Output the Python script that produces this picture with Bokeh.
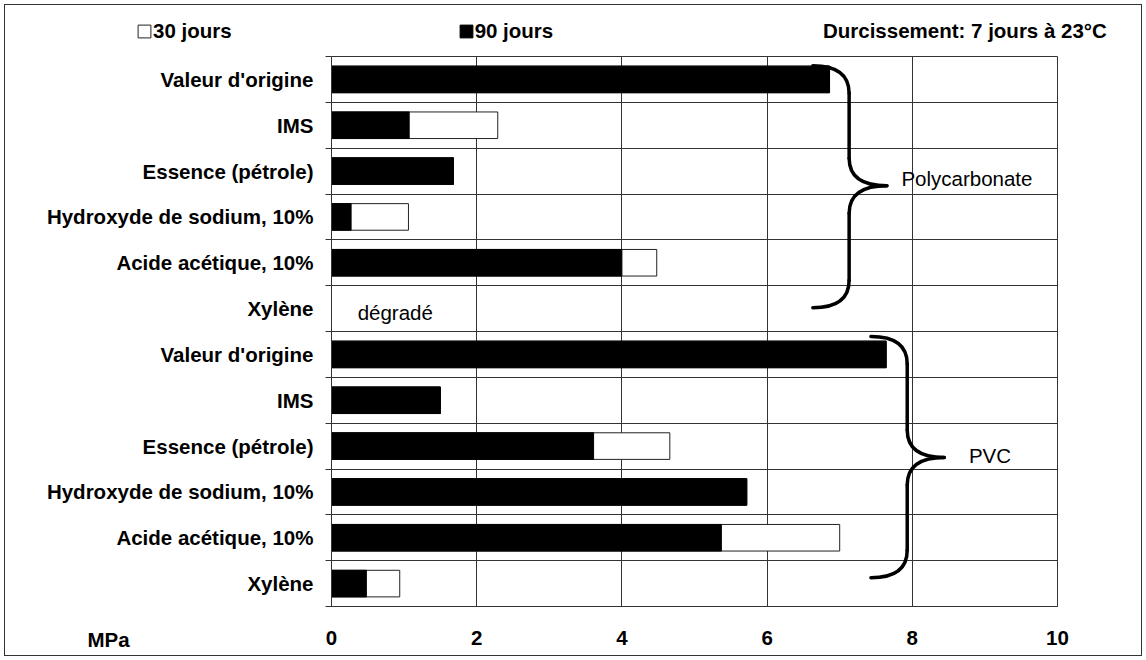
from bokeh.plotting import figure
from bokeh.models import (ColumnDataSource, Range1d, FixedTicker, Label,
                          Legend, LegendItem)
from bokeh.embed import file_html
from bokeh.resources import INLINE

# ---------------- data ----------------
categories = ["Valeur d'origine", "IMS", "Essence (pétrole)",
              "Hydroxyde de sodium, 10%", "Acide acétique, 10%", "Xylène",
              "Valeur d'origine", "IMS", "Essence (pétrole)",
              "Hydroxyde de sodium, 10%", "Acide acétique, 10%", "Xylène"]
groups = ["Polycarbonate"] * 6 + ["PVC"] * 6
jours30 = [6.86, 2.29, 1.68, 1.06, 4.48, None,
           7.64, 1.50, 4.66, 5.72, 7.00, 0.94]
jours90 = [6.86, 1.07, 1.68, 0.27, 4.00, None,
           7.64, 1.50, 3.61, 5.72, 5.37, 0.48]
x_ticks = [0, 2, 4, 6, 8, 10]
legend_30 = "30 jours"
legend_90 = "90 jours"
cure_text = "Durcissement: 7 jours à 23°C"
degraded_text = "dégradé"
x_unit = "MPa"

FONT = "Liberation Sans"
FS = "20.5px"
GRID = "#333333"
W, H = 1146, 660
LEFT, RIGHT, TOP, BOTTOM = 331, 89, 56, 54

n = len(categories)
ypos = [i + 0.5 for i in range(n)]
nan = float("nan")
src = ColumnDataSource(dict(
    y=ypos,
    v30=[nan if v is None else v for v in jours30],
    v90=[nan if v is None else v for v in jours90],
))

x0, x1 = 0, 10
p = figure(width=W, height=H,
           x_range=Range1d(x0, x1), y_range=Range1d(n, 0),
           output_backend="svg", toolbar_location=None,
           min_border_left=LEFT, min_border_right=RIGHT,
           min_border_top=TOP, min_border_bottom=BOTTOM)
p.background_fill_color = "white"
p.border_fill_alpha = 0
p.outline_line_color = GRID
p.outline_line_width = 1
p.styles = {"outline": "1px solid #333333", "outline-offset": "-5px",
            "background": "white"}

# grids
p.xgrid.ticker = FixedTicker(ticks=x_ticks)
p.xgrid.grid_line_color = GRID
p.xgrid.grid_line_width = 1
p.ygrid.ticker = FixedTicker(ticks=list(range(n + 1)))
p.ygrid.grid_line_color = GRID
p.ygrid.grid_line_width = 1

# x axis
xa = p.xaxis[0]
xa.ticker = FixedTicker(ticks=x_ticks)
xa.major_tick_out = 0
xa.major_tick_in = 0
xa.minor_tick_line_color = None
xa.axis_line_color = GRID
xa.major_label_text_font = FONT
xa.major_label_text_font_style = "bold"
xa.major_label_text_font_size = FS
xa.major_label_text_color = "black"
xa.major_label_standoff = 24

# y axis
ya = p.yaxis[0]
ya.ticker = FixedTicker(ticks=ypos, minor_ticks=list(range(n + 1)))
ya.major_label_overrides = {y: c for y, c in zip(ypos, categories)}
ya.major_tick_line_color = None
ya.major_tick_out = 0
ya.major_tick_in = 0
ya.minor_tick_out = 6
ya.minor_tick_in = 0
ya.minor_tick_line_color = GRID
ya.axis_line_color = GRID
ya.major_label_text_font = FONT
ya.major_label_text_font_style = "bold"
ya.major_label_text_font_size = FS
ya.major_label_text_color = "black"
ya.major_label_standoff = 12

# bars
BAR_H = 0.58
WHITE_BAR = dict(fill_color="white", line_color="#222222", line_width=1)
BLACK_BAR = dict(fill_color="black", line_color="black", line_width=1)
p.hbar(y="y", left=0, right="v30", height=BAR_H, source=src, **WHITE_BAR)
p.hbar(y="y", left=0, right="v90", height=BAR_H, source=src, **BLACK_BAR)

# braces (decoration)
braces = [
    dict(name="Polycarbonate", x_end=6.63, x_vert=7.13, x_tip=7.65,
         y_top=0.20, y_tip=2.82, y_bot=5.48, r=0.6, tx=7.85, ty=2.66),
    dict(name="PVC", x_end=7.43, x_vert=7.93, x_tip=8.44,
         y_top=6.11, y_tip=8.75, y_bot=11.37, r=0.6, tx=8.78, ty=8.71),
]
for b in braces:
    xe, xv, xt = b["x_end"], b["x_vert"], b["x_tip"]
    yt, ym, yb, r = b["y_top"], b["y_tip"], b["y_bot"], b["r"]
    p.quadratic(x0=[xe, xv, xt, xv], y0=[yt, ym - r, ym, yb - r],
                x1=[xv, xt, xv, xe], y1=[yt + r, ym, ym + r, yb],
                cx=[xv, xv, xv, xv], cy=[yt, ym, ym, yb],
                line_color="black", line_width=3.5, line_cap="round")
    p.segment(x0=[xv, xv], y0=[yt + r, ym + r], x1=[xv, xv], y1=[ym - r, yb - r],
              line_color="black", line_width=3.5, line_cap="round")
    p.add_layout(Label(x=b["tx"], y=b["ty"], text=b["name"], text_font=FONT,
                       text_font_size=FS, text_baseline="middle",
                       text_align="left", text_color="black"))

# "dégradé" for the missing Polycarbonate / Xylène value
deg_idx = [i for i, v in enumerate(jours90) if v is None][0]
p.add_layout(Label(x=0.36, y=ypos[deg_idx] + 0.08, text=degraded_text,
                   text_font=FONT, text_font_size=FS, text_baseline="middle",
                   text_align="left", text_color="black"))

# ---- transparent overlay for the texts that lie outside the plot frame ----
# same data scale as the main plot, but its frame covers the whole canvas
fw = W - LEFT - RIGHT
fh = H - TOP - BOTTOM
ux = (x1 - x0) / fw
uy = n / fh
ov = figure(width=W, height=H,
            x_range=Range1d(x0 - LEFT * ux, x1 + RIGHT * ux),
            y_range=Range1d(n + BOTTOM * uy, -TOP * uy),
            output_backend="svg", toolbar_location=None,
            min_border=0, x_axis_location=None, y_axis_location=None)
ov.grid.visible = False
ov.background_fill_alpha = 0
ov.border_fill_alpha = 0
ov.outline_line_color = None
ov.styles = {"position": "absolute", "top": "0px", "left": "0px",
             "pointer-events": "none"}

# swatch renderers for the legend (one undrawn NaN row each)
e30 = ov.hbar(y=[nan], left=[0], right=[nan], height=1, **WHITE_BAR)
e90 = ov.hbar(y=[nan], left=[0], right=[nan], height=1, **BLACK_BAR)
legend = Legend(items=[LegendItem(label=legend_30, renderers=[e30]),
                       LegendItem(label=legend_90, renderers=[e90])],
                orientation="horizontal", location=(136, H - 43),
                spacing=226, padding=0, margin=0, border_line_color=None,
                background_fill_alpha=0, glyph_width=16, glyph_height=16,
                label_standoff=1, label_text_font=FONT,
                label_text_font_style="bold", label_text_font_size=FS,
                label_text_color="black", label_text_baseline="middle")
ov.add_layout(legend)

hdr = dict(text_font=FONT, text_font_size=FS, text_font_style="bold",
           text_baseline="middle", text_color="black")
ov.add_layout(Label(x=10.68, y=-0.57, text=cure_text, text_align="right", **hdr))
ov.add_layout(Label(x=-3.07, y=12.72, text=x_unit, text_align="center", **hdr))

open("out.html", "w").write(file_html([p, ov], INLINE))
